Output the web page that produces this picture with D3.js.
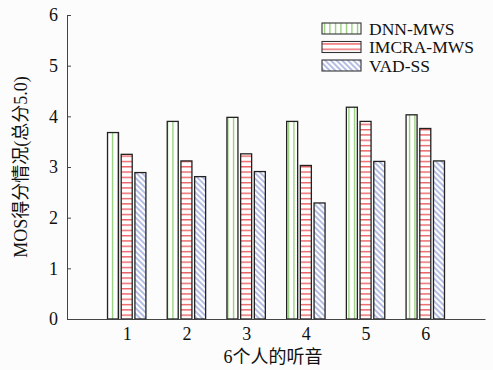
<!DOCTYPE html>
<html>
<head>
<meta charset="utf-8" />
<title>MOS</title>
<script src="https://cdn.jsdelivr.net/npm/d3@7"></script>
<style>
body { margin:0; background:#fcfcfc; }
text { font-family: "Liberation Serif", "Noto Sans CJK SC", serif; fill:#111; }
</style>
</head>
<body>
<div id="chart"></div>
<script>
const categories = ["1","2","3","4","5","6"];
const seriesNames = ["DNN-MWS","IMCRA-MWS","VAD-SS"];
const dnn   = [3.68, 3.90, 3.98, 3.90, 4.18, 4.03];
const imcra = [3.25, 3.12, 3.26, 3.03, 3.90, 3.76];
const vad   = [2.89, 2.81, 2.91, 2.29, 3.11, 3.12];
const yTicks = [0,1,2,3,4,5,6];

const width = 493, height = 370;
const margin = {top: 15, right: 8, bottom: 51, left: 67};
const fontFam = '"Liberation Serif", "Noto Sans CJK SC", serif';

const svg = d3.select("#chart").append("svg")
	.attr("width", width)
	.attr("height", height);

const defs = svg.append("defs");
// green vertical lines
const pG = defs.append("pattern").attr("id","pGreen").attr("patternUnits","userSpaceOnUse")
	.attr("width",5.5).attr("height",10);
pG.append("rect").attr("width",5.5).attr("height",10).attr("fill","#fff");
pG.append("line").attr("x1",2.5).attr("x2",2.5).attr("y1",0).attr("y2",10)
	.attr("stroke","#7cc35a").attr("stroke-width",1.1);
// red horizontal lines
const pR = defs.append("pattern").attr("id","pRed").attr("patternUnits","userSpaceOnUse")
	.attr("width",10).attr("height",5.3);
pR.append("rect").attr("width",10).attr("height",5.3).attr("fill","#fff");
pR.append("line").attr("x1",0).attr("x2",10).attr("y1",2.5).attr("y2",2.5)
	.attr("stroke","#e8474a").attr("stroke-width",1.2);
// blue diagonal hatch
const pB = defs.append("pattern").attr("id","pBlue").attr("patternUnits","userSpaceOnUse")
	.attr("width",4).attr("height",4).attr("patternTransform","rotate(45)");
pB.append("rect").attr("width",4).attr("height",4).attr("fill","#fff");
pB.append("line").attr("x1",0).attr("x2",4).attr("y1",2).attr("y2",2)
	.attr("stroke","#5b6fc0").attr("stroke-width",0.9);

const fills = ["url(#pGreen)","url(#pRed)","url(#pBlue)"];

const x = d3.scaleLinear().domain([0,7]).range([margin.left, width - margin.right]);
const y = d3.scaleLinear().domain([0,6]).range([height - margin.bottom, margin.top]);

const barW = 11, pitch = 13.7;
const series = [dnn, imcra, vad];

const g = svg.append("g");
series.forEach(function(vals, si){
	g.selectAll(".b" + si)
		.data(vals)
		.enter()
		.append("rect")
			.attr("x", (d,i) => x(i+1) + (si-1)*pitch - barW/2)
			.attr("y", d => y(d))
			.attr("width", barW)
			.attr("height", d => y(0) - y(d))
			.attr("fill", fills[si])
			.attr("stroke", "#222")
			.attr("stroke-width", 1.3);
});

// axes
const yAxis = svg.append("g")
	.attr("transform", "translate(" + margin.left + ",0)")
	.call(d3.axisLeft(y).tickValues(yTicks).tickSize(-4).tickPadding(9).tickFormat(d3.format("d")))
	.attr("font-family", fontFam)
	.attr("font-size", 18);
yAxis.select(".domain").attr("stroke","#444");
yAxis.selectAll(".tick line").attr("stroke","#444");

const xAxis = svg.append("g")
	.attr("transform", "translate(0," + y(0) + ")")
	.call(d3.axisBottom(x).tickValues(d3.range(1,7)).tickSize(0).tickPadding(8)
		.tickFormat((d,i) => categories[i]))
	.attr("font-family", fontFam)
	.attr("font-size", 18);
xAxis.select(".domain").attr("stroke","#444");

svg.append("text")
	.attr("transform", "translate(27," + ((margin.top + y(0))/2) + ") rotate(-90)")
	.attr("text-anchor","middle")
	.attr("font-size",18)
	.text("MOS得分情况(总分5.0)");

svg.append("text")
	.attr("x", 273).attr("y", 363)
	.attr("text-anchor","middle")
	.attr("font-size",18)
	.text("6个人的听音");

// legend
const legend = svg.append("g").attr("transform","translate(322,23)");
seriesNames.forEach(function(name, i){
	const row = legend.append("g").attr("transform","translate(0," + i*18.5 + ")");
	row.append("rect").attr("width",39).attr("height",11)
		.attr("fill",fills[i]).attr("stroke","#333").attr("stroke-width",1.1);
	row.append("text").attr("x",47).attr("y",11.5).attr("font-size",17.5).text(name);
});
</script>
</body>
</html>
